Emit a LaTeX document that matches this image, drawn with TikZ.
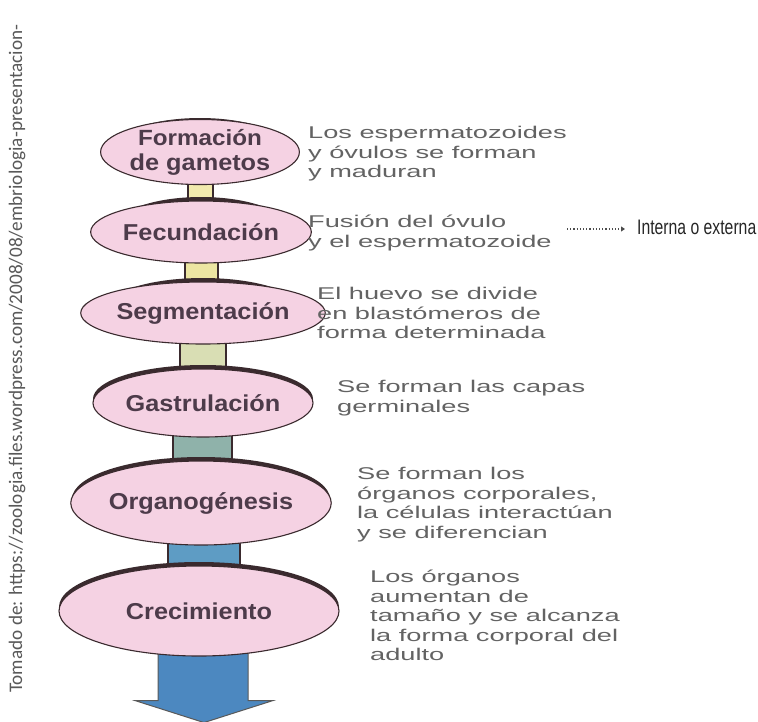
\documentclass[tikz,border=0pt]{standalone}
\usepackage{fontspec}
\usetikzlibrary{shapes.geometric,calc,backgrounds,arrows.meta}
\newfontfamily\stagefont[FakeStretch=1.1]{Liberation Sans}
\newfontfamily\descfont[FakeStretch=1.6]{Liberation Sans}
\newfontfamily\narrowfont[FakeStretch=0.75]{Liberation Sans}
\newfontfamily\srcfont{Carlito}
\definecolor{pinkfill}{HTML}{F5D2E3}
\definecolor{brd}{HTML}{3A2A2E}
\definecolor{stagetxt}{HTML}{4D3B4A}
\definecolor{desctxt}{HTML}{636363}
\definecolor{cAB}{HTML}{F2EAAE}
\definecolor{cBC}{HTML}{ECE5A2}
\definecolor{cCD}{HTML}{D9DEB4}
\definecolor{cDE}{HTML}{8FB2AA}
\definecolor{cEF}{HTML}{5E9CC4}
\definecolor{arrowblue}{HTML}{4C88C0}
\tikzset{
  stage/.style={ellipse, fill=pinkfill, draw=brd, line width=1.1pt, inner sep=0pt,
    text=stagetxt, font=\stagefont\bfseries\fontsize{23}{25}\selectfont, align=center},
  link/.style={draw=brd, line width=1.3pt},
  desc/.style={anchor=north west, inner sep=0pt, align=left, text=desctxt,
    font=\descfont\fontsize{17}{19.5}\selectfont}
}
\newcommand\stagebox[6]{%
  \fill[brd] (#2,#3-4) ellipse ({#4} and {#5});
  \node[stage, minimum width=#4*2pt, minimum height=#5*2pt] (#1) at (#2,#3) {#6};
}
\begin{document}
\begin{tikzpicture}[x=1pt,y=-1pt]
\useasboundingbox (0,0) rectangle (758,721);

\stagebox{A}{200}{152}{85}{30}{\fontsize{22}{25}\selectfont Formación\\de gametos}
\stagebox{B}{201}{232}{86}{31}{Fecundación}
\stagebox{C}{203}{313}{97}{31}{Segmentación}
\stagebox{D}{203}{403}{110}{34}{Gastrulación}
\stagebox{E}{201}{503}{129}{42}{Organogénesis}
\stagebox{F}{199}{611}{140}{45}{Crecimiento}

\begin{pgfonlayer}{background}
  \fill[white] (0,0) rectangle (758,721);
  \filldraw[link, fill=cAB] ($(A.south)+(-12,-6)$) rectangle ($(B.north)+(12,6)$);
  \filldraw[link, fill=cBC] ($(B.south)+(-16,-6)$) rectangle ($(C.north)+(15,6)$);
  \filldraw[link, fill=cCD] ($(C.south)+(-23,-6)$) rectangle ($(D.north)+(23,6)$);
  \filldraw[link, fill=cDE] ($(D.south)+(-30,-6)$) rectangle ($(E.north)+(31,6)$);
  \filldraw[link, fill=cEF] ($(E.south)+(-33,-6)$) rectangle ($(F.north)+(41,6)$);
  \filldraw[draw=black!65, line width=1pt, fill=arrowblue]
    ($(F.south)+(-41,-6)$) -- ($(F.south)+(-41,44)$) -- ($(F.south)+(-64,44)$)
    -- ($(F.south)+(5,66)$) -- ($(F.south)+(74,44)$) -- ($(F.south)+(49,44)$)
    -- ($(F.south)+(49,-6)$) -- cycle;
\end{pgfonlayer}

\node[desc] (tA) at (308,125) {\strut Los espermatozoides\\y óvulos se forman\\y maduran};
\node[desc] (tB) at (308,214) {\strut Fusión del óvulo\\y el espermatozoide};
\node[desc] (tC) at (317,286) {\strut El huevo se divide\\en blastómeros de\\forma determinada};
\node[desc] (tD) at (337,379) {\strut Se forman las capas\\germinales};
\node[desc] (tE) at (357,466) {\strut Se forman los\\órganos corporales,\\la células interactúan\\y se diferencian};
\node[desc] (tF) at (370,569) {\strut Los órganos\\aumentan de\\tamaño y se alcanza\\la forma corporal del\\adulto};

\node[anchor=base west, inner xsep=12pt, inner ysep=0pt, text=black!85,
  font=\narrowfont\fontsize{21}{23}\selectfont] (ie) at (625,234) {Interna o externa};
\coordinate (ds) at (567,229);
\draw[black!70, line width=1.2pt, dotted, -{Triangle[length=4pt,width=5pt]}] (ds) -- (ie.west |- ds);

\node[rotate=90, anchor=west, inner sep=0pt, text=black!65,
  font=\srcfont\fontsize{19.2}{21}\selectfont] (src) at (17,693)
  {Tomado de: https://zoologia.files.wordpress.com/2008/08/embriologia-presentacion-};
\end{tikzpicture}
\end{document}
